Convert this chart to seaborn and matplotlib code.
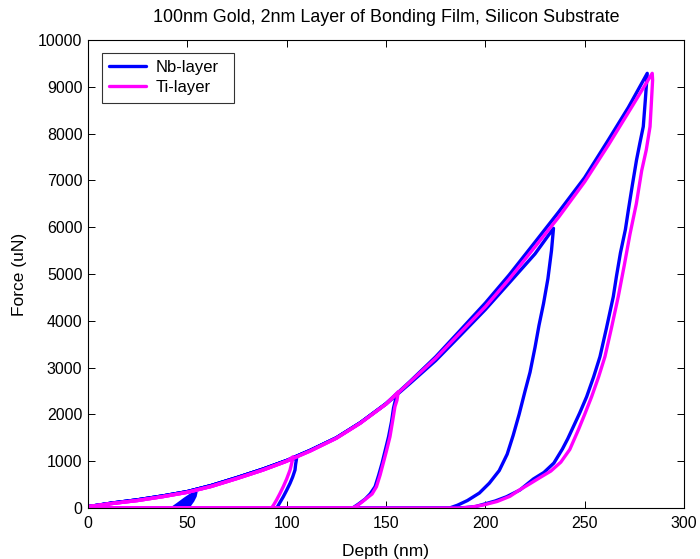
import numpy as np
import pandas as pd
import matplotlib
matplotlib.use("Agg")
import matplotlib.pyplot as plt
import seaborn as sns

# ---- loading curves (depth in nm, force in uN) ----
nb_load_depth = [0, 5, 12, 25, 38, 50, 62, 75, 88, 100, 112, 125, 137, 150, 162, 175, 187, 200, 212, 225, 237, 250, 262, 272, 281.5]
nb_load_force = [30, 60, 105, 175, 260, 350, 480, 650, 830, 1015, 1235, 1500, 1820, 2230, 2700, 3230, 3780, 4380, 4980, 5680, 6330, 7060, 7870, 8560, 9290]

# shallower Nb indent to ~6000 uN runs slightly below the deep one above 150 nm
nb_load_mid_depth = [0, 5, 12, 25, 38, 50, 62, 75, 88, 100, 112, 125, 137, 150, 162, 175, 187, 200, 212, 225, 234.3]
nb_load_mid_force = [30, 60, 105, 175, 260, 350, 480, 650, 830, 1015, 1235, 1500, 1820, 2220, 2660, 3150, 3670, 4240, 4810, 5430, 5976]

ti_load_depth = [0, 5, 12, 25, 38, 50, 62, 75, 88, 100, 112, 125, 137, 150, 162, 175, 187, 200, 212, 225, 237, 250, 262, 274, 284]
ti_load_force = [30, 55, 95, 160, 245, 335, 460, 630, 810, 1000, 1220, 1490, 1810, 2220, 2690, 3200, 3730, 4300, 4890, 5580, 6220, 6970, 7760, 8590, 9288]

# ---- unloading curves ----
nb_unload_1_depth = [105, 104.5, 104.2, 103, 101.7, 100, 98.3, 96.5, 95]
nb_unload_1_force = [1062, 930, 812, 660, 528, 380, 241, 110, 0]

nb_unload_2_depth = [155.5, 153.8, 152.8, 151.3, 149.6, 148, 146.3, 144.5, 142, 139.5, 136, 133.2]
nb_unload_2_force = [2440, 2140, 1850, 1524, 1230, 955, 700, 456, 300, 190, 80, 0]

nb_unload_3_depth = [234.3, 233.3, 231.5, 229.3, 227, 225, 222.5, 220, 217, 214, 211, 207, 202, 197, 191, 186, 182]
nb_unload_3_force = [5976, 5500, 4900, 4370, 3900, 3430, 2900, 2500, 2000, 1550, 1150, 800, 530, 320, 160, 60, 0]

nb_unload_4_depth = [281.5, 280.5, 279.5, 277.8, 276.1, 274, 272, 270.5, 268, 266, 264.4, 261, 257.7, 254.5, 251, 247.5, 244.3, 241.5, 238.8, 234.5, 229.5, 224.2, 217.4, 210.7, 205, 200, 195, 190, 185]
nb_unload_4_force = [9288, 8700, 8150, 7800, 7436, 6900, 6368, 5950, 5450, 4950, 4515, 3850, 3233, 2800, 2378, 2030, 1737, 1480, 1260, 960, 760, 620, 385, 241, 150, 90, 30, 10, 0]

ti_unload_1_depth = [103.3, 102.5, 101.7, 100, 98.3, 96.5, 94.9, 93.5, 92.4]
ti_unload_1_force = [1096, 950, 812, 620, 456, 300, 171, 70, 0]

ti_unload_2_depth = [156.2, 155.5, 154.5, 153.3, 152, 150.3, 148.6, 147, 145.2, 143, 140.2, 138, 135.5, 133.2]
ti_unload_2_force = [2486, 2300, 2165, 1850, 1524, 1230, 955, 700, 456, 300, 207, 130, 50, 0]

ti_unload_3_depth = [284, 284.2, 283.5, 282.9, 281, 278.7, 276, 272.8, 270, 266.9, 263.5, 260.2, 257, 253.5, 250, 246.8, 242.5, 238, 233, 227.5, 222.5, 217, 212.4, 206, 199, 193, 188]
ti_unload_3_force = [9288, 9145, 8600, 8148, 7650, 7209, 6500, 5850, 5200, 4515, 3850, 3233, 2800, 2378, 2000, 1667, 1250, 980, 790, 650, 520, 380, 250, 140, 64, 20, 0]

# small Nb indent: narrow unload band near 50 nm
nb_small_band_depth = [42, 45, 48.5, 52, 54.7, 54.2, 53, 51.5, 49.7]
nb_small_band_force = [0, 90, 200, 300, 349, 250, 150, 60, 0]

layers = ["Nb-layer", "Ti-layer"]
colors = {"Nb-layer": "#0000FF", "Ti-layer": "#FF00FF"}


def cycle(load_d, load_f, un_d, un_f):
    """Loading branch up to the unload start, unloading branch, then back along zero."""
    peak = un_d[0]
    d = [x for x in load_d if x < peak]
    f = [y for x, y in zip(load_d, load_f) if x < peak]
    d = d + list(un_d) + [0]
    f = f + list(un_f) + [0]
    return d, f


rows = []
cycles = [
    ("Nb-layer", "nb1", nb_load_depth, nb_load_force, nb_unload_1_depth, nb_unload_1_force),
    ("Nb-layer", "nb2", nb_load_depth, nb_load_force, nb_unload_2_depth, nb_unload_2_force),
    ("Nb-layer", "nb3", nb_load_mid_depth, nb_load_mid_force, nb_unload_3_depth, nb_unload_3_force),
    ("Nb-layer", "nb4", nb_load_depth, nb_load_force, nb_unload_4_depth, nb_unload_4_force),
    ("Ti-layer", "ti1", ti_load_depth, ti_load_force, ti_unload_1_depth, ti_unload_1_force),
    ("Ti-layer", "ti2", ti_load_depth, ti_load_force, ti_unload_2_depth, ti_unload_2_force),
    ("Ti-layer", "ti3", ti_load_depth, ti_load_force, ti_unload_3_depth, ti_unload_3_force),
]
for layer, cid, ld, lf, ud, uf in cycles:
    d, f = cycle(ld, lf, ud, uf)
    for i, (x, y) in enumerate(zip(d, f)):
        rows.append({"layer": layer, "cycle": cid, "order": i, "Depth": x, "Force": y})
df = pd.DataFrame(rows)

sns.set_style("ticks")
plt.rcParams["font.family"] = ["Liberation Sans", "DejaVu Sans"]
plt.rcParams["font.size"] = 11.5
plt.rcParams["text.color"] = "black"
plt.rcParams["axes.labelcolor"] = "black"
plt.rcParams["xtick.color"] = "black"
plt.rcParams["ytick.color"] = "black"
plt.rcParams["axes.edgecolor"] = "black"

fig = plt.figure(figsize=(7.0, 5.59), dpi=100)
ax = fig.add_axes([88 / 700, 1 - 508 / 559, 596 / 700, 468 / 559])

ax.fill(nb_small_band_depth, nb_small_band_force, color=colors["Nb-layer"], lw=1.5,
        edgecolor=colors["Nb-layer"], zorder=1.9)

sns.lineplot(data=df, x="Depth", y="Force", hue="layer", hue_order=layers,
             units="cycle", estimator=None, sort=False, palette=colors,
             linewidth=2.4, ax=ax, legend=False)

ax.set_xlim(0, 300)
ax.set_ylim(0, 10000)
ax.set_xticks(np.arange(0, 301, 50))
ax.set_yticks(np.arange(0, 10001, 1000))
ax.tick_params(direction="in", top=True, right=True, length=5, width=0.7,
               labelsize=11.5, colors="black")
ax.tick_params(axis="x", pad=6)
ax.tick_params(axis="y", pad=4)
for sp in ax.spines.values():
    sp.set_visible(True)
    sp.set_linewidth(0.8)
    sp.set_color("black")

ax.set_xlabel("Depth (nm)", fontsize=12.5, labelpad=9, color="black")
ax.set_ylabel("Force (uN)", fontsize=12.5, labelpad=8, color="black")
ax.set_title("100nm Gold, 2nm Layer of Bonding Film, Silicon Substrate",
             fontsize=12.9, pad=13, color="black")

handles = [plt.Line2D([], [], color=colors[l], lw=2.4) for l in layers]
leg_w = (234 - 101.7) / 596
leg_h = (102.7 - 52.7) / 468
leg = ax.legend(handles, layers, loc="upper left",
                bbox_to_anchor=(0.023, 0.973 - leg_h, leg_w, leg_h), mode="expand",
                borderaxespad=0, fancybox=False, frameon=True, fontsize=12,
                handlelength=2.2, handletextpad=0.6, borderpad=0.45, labelspacing=0.3)
leg.get_frame().set_edgecolor("black")
leg.get_frame().set_linewidth(0.8)
for t in leg.get_texts():
    t.set_color("black")

fig.savefig("out.png", dpi=100, facecolor="white")
